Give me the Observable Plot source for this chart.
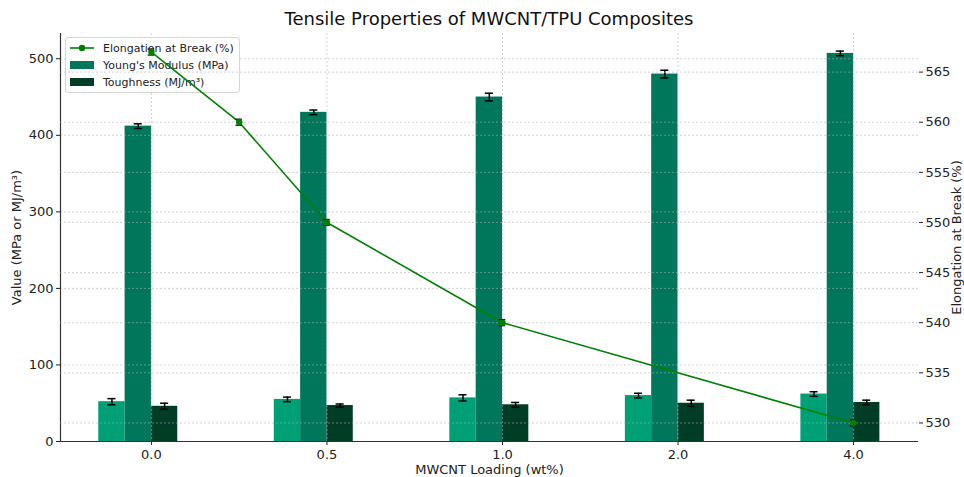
<!DOCTYPE html>
<html>
<head>
<meta charset="utf-8">
<script src="https://cdn.jsdelivr.net/npm/d3@7"></script>
<script src="https://cdn.jsdelivr.net/npm/@observablehq/plot@0.6"></script>
<style>
  html, body { margin: 0; padding: 0; background: #fff; }
  #wrap { position: relative; width: 964px; height: 477px; font-family: "DejaVu Sans", sans-serif; }
  #wrap > svg, #wrap > div.layer { position: absolute; left: 0; top: 0; }
  #title { position: absolute; left: 60px; width: 858px; top: 8px; text-align: center; font-size: 18px; color: #111; }
  #legend { position: absolute; left: 65px; top: 37px; width: 175px; height: 56px; box-sizing: border-box;
            border: 1px solid #d6d6d6; border-radius: 3px; background: rgba(255,255,255,0.8); font-size: 11px; color: #222; }
  .row { position: absolute; left: 4px; height: 16px; display: flex; align-items: center; }
  .sw { width: 24px; height: 8px; margin-right: 9px; }
</style>
</head>
<body>
<div id="wrap"></div>
<script>
// ---- data ----
const loadings = ["0.0", "0.5", "1.0", "2.0", "4.0"];
const loadingValues = [0, 0.5, 1, 2, 4];
const tensileStrength = [52, 55, 57, 60, 62];
const tensileErr = [4, 3, 4, 3, 3];
const youngsModulus = [412, 430, 450, 480, 507];
const youngsErr = [3, 3, 5, 5, 3];
const toughness = [46, 47, 48, 50, 51];
const toughnessErr = [4, 2, 3, 4, 3];
const elongation = [567, 560, 550, 540, 530];
const elongationErr = [0.3, 0.3, 0.3, 0.3, 0.3];
const leftTicks = [0, 100, 200, 300, 400, 500];
const rightTicks = [530, 535, 540, 545, 550, 555, 560, 565];

const colors = {tensile: "#00a077", modulus: "#00775a", toughness: "#003d26", line: "#008000"};
const barW = 0.15;
const capW = 0.023;

// build bar table
const series = [
  {key: "tensile", vals: tensileStrength, errs: tensileErr, off: -2},
  {key: "modulus", vals: youngsModulus, errs: youngsErr, off: -1},
  {key: "toughness", vals: toughness, errs: toughnessErr, off: 0}
];
const bars = [];
series.forEach(s => s.vals.forEach((v, i) => {
  const x1 = i + s.off * barW, x2 = x1 + barW;
  bars.push({key: s.key, x1, x2, xc: (x1 + x2) / 2, v, lo: v - s.errs[i], hi: v + s.errs[i]});
}));
const line = elongation.map((v, i) => ({x: loadingValues[i], v, lo: v - elongationErr[i], hi: v + elongationErr[i]}));

const W = 964, H = 477;
const margins = {marginLeft: 60, marginRight: 46, marginTop: 33, marginBottom: 36};
const xDomain = [-0.518, 4.37];
const gridStyle = {stroke: "#b0b0b0", strokeOpacity: 0.7, strokeDasharray: "2,2", strokeWidth: 0.8};

const main = Plot.plot({
  width: W, height: H, ...margins,
  style: {fontFamily: "DejaVu Sans, sans-serif", fontSize: "13px", color: "#222", background: "transparent"},
  x: {domain: xDomain},
  y: {domain: [0, 533]},
  marks: [
    Plot.rect(bars, {x1: "x1", x2: "x2", y1: 0, y2: "v", fill: d => colors[d.key]}),
    Plot.ruleY(leftTicks, gridStyle),
    Plot.ruleX([0, 1, 2, 3, 4], gridStyle),
    Plot.ruleX(bars, {x: "xc", y1: "lo", y2: "hi", stroke: "#000", strokeWidth: 1.5}),
    Plot.ruleY(bars, {y: "lo", x1: d => d.xc - capW, x2: d => d.xc + capW, stroke: "#000", strokeWidth: 1.5}),
    Plot.ruleY(bars, {y: "hi", x1: d => d.xc - capW, x2: d => d.xc + capW, stroke: "#000", strokeWidth: 1.5}),
    Plot.axisX([0, 1, 2, 3, 4], {tickFormat: i => loadings[i], tickSize: 4, tickPadding: 4, fontSize: 13,
      label: "MWCNT Loading (wt%)", labelAnchor: "center", labelOffset: 32, labelArrow: "none"}),
    Plot.axisY(leftTicks, {tickSize: 4, tickPadding: 3, fontSize: 13,
      label: "Value (MPa or MJ/m³)", labelAnchor: "center", labelOffset: 49, labelArrow: "none"}),
    Plot.ruleX([xDomain[0]], {stroke: "#333", strokeWidth: 1.2}),
    Plot.ruleY([0], {stroke: "#333", strokeWidth: 1.2})
  ]
});

const overlay = Plot.plot({
  width: W, height: H, ...margins,
  style: {fontFamily: "DejaVu Sans, sans-serif", fontSize: "13px", color: "#222", background: "transparent"},
  x: {domain: xDomain, axis: null},
  y: {domain: [528.15, 568.85], axis: null},
  marks: [
    Plot.ruleY(rightTicks, gridStyle),
    Plot.line(line, {x: "x", y: "v", stroke: colors.line, strokeWidth: 1.6}),
    Plot.ruleX(line, {x: "x", y1: "lo", y2: "hi", stroke: "#000", strokeWidth: 1.5}),
    Plot.ruleY(line, {y: "lo", x1: d => d.x - capW * 0.8, x2: d => d.x + capW * 0.8, stroke: "#000", strokeWidth: 1.2}),
    Plot.ruleY(line, {y: "hi", x1: d => d.x - capW * 0.8, x2: d => d.x + capW * 0.8, stroke: "#000", strokeWidth: 1.2}),
    Plot.dot(line, {x: "x", y: "v", r: 3.2, fill: colors.line}),
    Plot.axisY(rightTicks, {anchor: "right", tickSize: 4, tickPadding: 3, fontSize: 13,
      label: "Elongation at Break (%)", labelAnchor: "center", labelOffset: 42, labelArrow: "none"})
  ]
});

const wrap = document.getElementById("wrap");
wrap.appendChild(main);

const title = document.createElement("div");
title.id = "title";
title.textContent = "Tensile Properties of MWCNT/TPU Composites";
wrap.appendChild(title);

const legend = document.createElement("div");
legend.id = "legend";
const items = [
  {label: "Elongation at Break (%)", kind: "line", color: colors.line},
  {label: "Young's Modulus (MPa)", kind: "box", color: colors.modulus},
  {label: "Toughness (MJ/m³)", kind: "box", color: colors.toughness}
];
items.forEach((it, i) => {
  const row = document.createElement("div");
  row.className = "row";
  row.style.top = (2 + i * 17) + "px";
  let sw;
  if (it.kind === "line") {
    sw = document.createElementNS("http://www.w3.org/2000/svg", "svg");
    sw.setAttribute("width", 24); sw.setAttribute("height", 10);
    sw.style.marginRight = "9px";
    sw.innerHTML = `<line x1="0" x2="24" y1="5" y2="5" stroke="${it.color}" stroke-width="1.6"/><circle cx="12" cy="5" r="3.2" fill="${it.color}"/>`;
  } else {
    sw = document.createElement("div");
    sw.className = "sw";
    sw.style.background = it.color;
  }
  row.appendChild(sw);
  const t = document.createElement("span");
  t.textContent = it.label;
  row.appendChild(t);
  legend.appendChild(row);
});
wrap.appendChild(legend);
wrap.appendChild(overlay);
</script>
</body>
</html>
